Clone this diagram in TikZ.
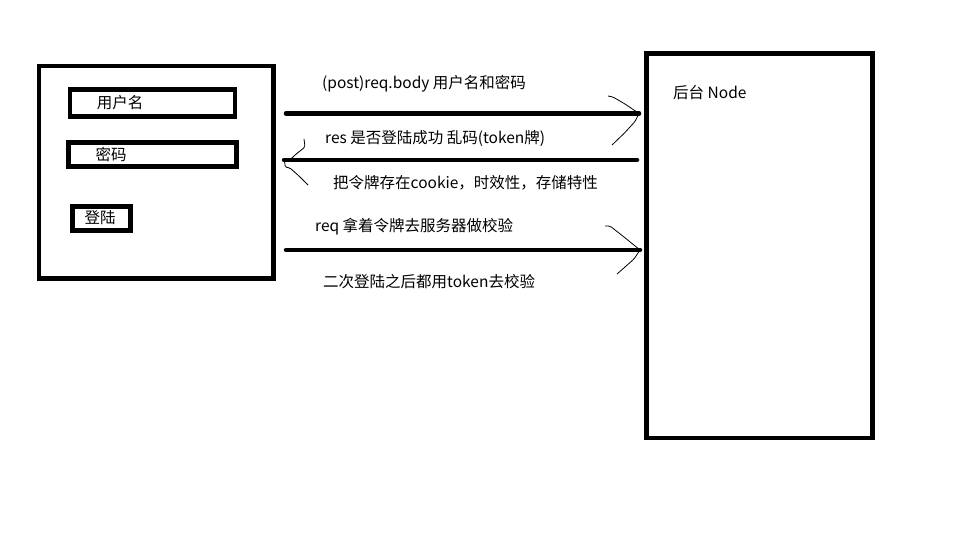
\documentclass[tikz,border=0pt]{standalone}
\usepackage{fontspec}
\setmainfont{Noto Sans CJK SC}
\usetikzlibrary{calc}

\tikzset{
	box/.style={draw, line width=4.5pt, inner sep=0pt},
	txt/.style={font=\fontsize{15.5}{18}\selectfont, inner sep=0pt},
	flow/.style={line width=4.5pt, line cap=round},
	pen/.style={line width=0.8pt, line join=round, rounded corners=1.5pt},
}

\begin{document}
\begin{tikzpicture}[x=1pt,y=-1pt]
		\useasboundingbox (0,0) rectangle (960,540);
		%login page and backend
		\node [box, minimum width=234.5, minimum height=212.5] (client) at (156.25,172.25) {};
		\node [box, minimum width=226, minimum height=384.5] (server) at (759.5,245.75) {};
		\node [box, minimum width=165, minimum height=27] (user) at (152.5,103) {};
		\node [box, minimum width=168, minimum height=24] (pwd) at (152.5,154.5) {};
		\node [box, minimum width=58, minimum height=24] (login) at (101.5,218.5) {};
		\node [txt] (userlbl) at (120,103) {用户名};
		\node [txt] (pwdlbl) at (111,155) {密码};
		\node [txt] (loginlbl) at (100,218) {登陆};
		\node [txt, anchor=west] (serverlbl) at (673,93) {后台 Node};
		%messages
		\coordinate (req s) at (286,113.5);
		\coordinate (req e) at (639,113.5);
		\coordinate (res s) at (637,160);
		\coordinate (res e) at (284,160);
		\coordinate (tok s) at (286,250);
		\coordinate (tok e) at (640,250);
		\draw [flow] (req s)--(req e);
		\draw [flow] (res s)--(res e);
		\draw [flow] (tok s)--(tok e);
		%hand drawn tips
		\draw [pen] (req e) ++(-31,-17.5) -- ++(5,1) -- ++(12,7) -- (req e) -- ++(-4,8) -- ++(-11,12) -- ++(-12,11.5);
		\draw [pen] (res e) ++(20,-21) -- ++(1,8) -- ++(-10,8) -- ++(-4,4) -- (res e);
		\draw [pen] (res e) -- ++(1,3) -- ++(0,4) -- ++(5,1) -- ++(9,8) -- ++(9,9);
		\draw [pen] (tok e) ++(-35,-24) -- ++(5,0) -- ++(14,11) -- (tok e) -- ++(-6,9) -- ++(-9,8) -- ++(-8,7);
		\node [txt, anchor=west] (reqlbl) at (322,84) {(post)req.body 用户名和密码};
		\node [txt, anchor=west] (reslbl) at (325,138) {res 是否登陆成功 乱码(token牌)};
		\node [txt, anchor=west] (cookielbl) at (333,183) {把令牌存在cookie，时效性，存储特性};
		\node [txt, anchor=west] (toklbl) at (315,227) {req 拿着令牌去服务器做校验};
		\node [txt, anchor=west] (againlbl) at (323,282) {二次登陆之后都用token去校验};
\end{tikzpicture}
\end{document}
